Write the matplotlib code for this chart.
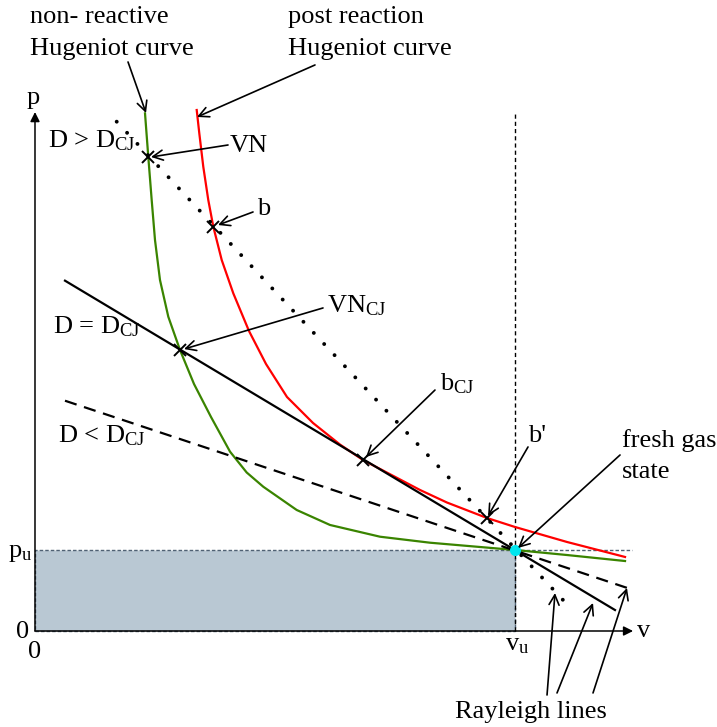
import matplotlib
matplotlib.use("Agg")
import matplotlib.pyplot as plt
from matplotlib.patches import Rectangle

plt.rcParams['font.family'] = ['Liberation Serif', 'DejaVu Serif']
plt.rcParams['mathtext.fontset'] = 'custom'
plt.rcParams['mathtext.rm'] = 'Liberation Serif'
plt.rcParams['mathtext.it'] = 'Liberation Serif:italic'

# fresh gas state (v_u, p_u) taken as unit values
v_u, p_u = 1.0, 1.0

# non-reactive Hugoniot curve (green)
green_v = [0.2292, 0.2360, 0.2431, 0.2500, 0.2604, 0.2777, 0.3021, 0.3313, 0.3667, 0.4063,
           0.4410, 0.4756, 0.5452, 0.6146, 0.7188, 0.8229, 1.0, 1.1083, 1.2292]
green_p = [6.391, 5.856, 5.321, 4.827, 4.333, 3.880, 3.469, 3.049, 2.642, 2.214,
           1.957, 1.781, 1.494, 1.309, 1.164, 1.090, 1.0, 0.938, 0.864]

# post reaction Hugoniot curve (red)
red_v = [0.3369, 0.3423, 0.3506, 0.3610, 0.3715, 0.3890, 0.4131, 0.4458, 0.4813, 0.5250,
         0.5792, 0.6354, 0.6833, 0.8021, 0.8583, 0.9417, 1.0, 1.1083, 1.2292]
red_p = [6.432, 6.144, 5.732, 5.321, 4.991, 4.580, 4.169, 3.704, 3.296, 2.889,
         2.568, 2.302, 2.111, 1.741, 1.586, 1.395, 1.284, 1.099, 0.914]

# Rayleigh lines: start and end points
ray_names = ['D > DCJ', 'D = DCJ', 'D < DCJ']
ray_v0 = [0.1702, 0.0625, 0.0625]
ray_p0 = [6.288, 4.325, 2.843]
ray_v1 = [1.1181, 1.2083, 1.2361]
ray_p1 = [0.268, 0.259, 0.527]

# intersection points: VN, b, VN_CJ, b_CJ, b'
pt_names = ['VN', 'b', 'VNCJ', 'bCJ', "b'"]
pt_v = [0.2360, 0.3715, 0.3021, 0.6833, 0.9417]
pt_p = [5.856, 4.991, 3.469, 2.111, 1.395]

fs = 19
fig = plt.figure(figsize=(7.17, 7.27), dpi=100)
ax = fig.add_axes([0, 0, 1, 1])
ax.set_xlim(-0.0729, 1.4208)
ax.set_ylim(-1.1852, 7.7901)
ax.axis('off')

# shaded area below fresh gas state
ax.add_patch(Rectangle((0, 0), v_u, p_u, facecolor='#b9c8d3', edgecolor='#4f6173',
                       lw=1, ls=(0, (2.5, 1.5)), zorder=1))
ax.plot([v_u, 1.244], [p_u, p_u], color='#4f6173', lw=1, ls=(0, (2.5, 1.5)), zorder=1)
ax.plot([v_u, v_u], [0, 6.407], color='k', lw=1, ls=(0, (3, 2.2)), zorder=1)

# axes
ax.annotate('', xy=(0, 6.407), xytext=(0, 0),
            arrowprops=dict(arrowstyle='-|>', lw=1.1, color='k', mutation_scale=14,
                            shrinkA=0, shrinkB=0))
ax.annotate('', xy=(1.246, 0), xytext=(0, 0),
            arrowprops=dict(arrowstyle='-|>', lw=1.1, color='k', mutation_scale=14,
                            shrinkA=0, shrinkB=0))

# curves
ax.plot(green_v, green_p, color='#3a8400', lw=1.6, zorder=3, solid_joinstyle='round')
ax.plot(red_v, red_p, color='#ff0000', lw=1.6, zorder=3, solid_joinstyle='round')

styles = [dict(ls=(0, (0.01, 3.9)), lw=2.8, dash_capstyle='round'),
          dict(ls='-', lw=1.6),
          dict(ls=(0, (5.5, 3.5)), lw=1.6)]
for i in range(3):
    ax.plot([ray_v0[i], ray_v1[i]], [ray_p0[i], ray_p1[i]], color='k', zorder=4, **styles[i])

ax.plot(pt_v, pt_p, 'x', color='k', ms=9, mew=1.4, zorder=5)
ax.plot([v_u], [p_u], 'o', color='#00e5ee', ms=7, zorder=6)

def arrow(tail, head):
    ax.annotate('', xy=head, xytext=tail,
                arrowprops=dict(arrowstyle='->', lw=1.2, color='k', mutation_scale=18,
                                shrinkA=0, shrinkB=0), zorder=6)

arrow((0.1938, 7.025), (0.2313, 6.395))
arrow((0.5833, 6.988), (0.3375, 6.346))
arrow((0.4021, 6.000), (0.2417, 5.852))
arrow((0.4542, 5.173), (0.3813, 5.012))
arrow((0.6000, 3.988), (0.3104, 3.481))
arrow((0.8333, 2.975), (0.6896, 2.148))
arrow((1.0271, 2.272), (0.9438, 1.420))
arrow((1.2188, 2.173), (1.0063, 1.025))
arrow((1.0667, -0.790), (1.0833, 0.469))
arrow((1.0875, -0.765), (1.1625, 0.346))
arrow((1.1625, -0.765), (1.2333, 0.531))

def txt(v, p, s, ha='left', size=fs):
    ax.text(v, p, s, ha=ha, va='baseline', fontsize=size)

txt(-0.0104, 7.506, 'non- reactive')
txt(-0.0104, 7.111, 'Hugeniot curve')
txt(0.5271, 7.506, 'post reaction')
txt(0.5271, 7.111, 'Hugeniot curve')
txt(-0.004, 6.506, 'p', ha='center')
txt(0.0271, 5.975, r'D > $\mathrm{D}_{\mathrm{CJ}}$')
txt(0.4063, 5.914, 'VN')
txt(0.4625, 5.136, 'b')
txt(0.6083, 3.938, r'$\mathrm{VN}_{\mathrm{CJ}}$')
txt(0.0375, 3.679, r'D = $\mathrm{D}_{\mathrm{CJ}}$')
txt(0.8438, 2.975, r'$\mathrm{b}_{\mathrm{CJ}}$')
txt(0.0479, 2.333, r'D < $\mathrm{D}_{\mathrm{CJ}}$')
txt(1.0271, 2.333, "b'")
txt(1.2229, 2.272, 'fresh gas')
txt(1.2229, 1.889, 'state')
txt(-0.0063, 0.914, r'$\mathrm{p}_{\mathrm{u}}$', ha='right')
txt(-0.0125, -0.086, '0', ha='right')
txt(0.0, -0.333, '0', ha='center')
txt(1.0042, -0.235, r'$\mathrm{v}_{\mathrm{u}}$', ha='center')
txt(1.2542, -0.074, 'v')
txt(0.875, -1.074, 'Rayleigh lines')

fig.savefig('out.png', dpi=100)
